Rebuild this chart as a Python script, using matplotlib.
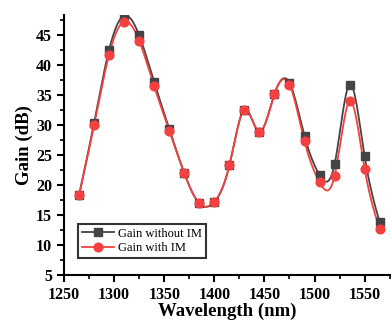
import numpy as np
import matplotlib
matplotlib.use("Agg")
import matplotlib.pyplot as plt
from matplotlib.ticker import MultipleLocator

wavelength = [1265, 1280, 1295, 1310, 1325, 1340, 1355, 1370, 1385, 1400, 1415,
              1430, 1445, 1460, 1475, 1490, 1505, 1520, 1535, 1550, 1565]
gain_without_im = [18.3, 30.4, 42.6, 48.3, 45.0, 37.2, 29.4, 22.0, 16.95, 17.2, 23.3,
                   32.6, 28.9, 35.2, 37.1, 28.2, 21.7, 23.5, 36.8, 24.8, 13.8]
gain_with_im = [18.3, 30.0, 41.8, 47.3, 44.1, 36.5, 29.1, 22.0, 16.95, 17.2, 23.3,
                32.6, 28.9, 35.2, 36.8, 27.3, 20.5, 21.55, 34.0, 22.7, 12.7]


def natural_spline(x, y, n=600):
    x = np.asarray(x, float)
    y = np.asarray(y, float)
    m = len(x)
    h = np.diff(x)
    A = np.zeros((m, m))
    b = np.zeros(m)
    A[0, 0] = 1
    A[-1, -1] = 1
    for i in range(1, m - 1):
        A[i, i - 1] = h[i - 1]
        A[i, i] = 2 * (h[i - 1] + h[i])
        A[i, i + 1] = h[i]
        b[i] = 3 * ((y[i + 1] - y[i]) / h[i] - (y[i] - y[i - 1]) / h[i - 1])
    c = np.linalg.solve(A, b)
    xs = np.linspace(x[0], x[-1], n)
    idx = np.clip(np.searchsorted(x, xs) - 1, 0, m - 2)
    dx = xs - x[idx]
    bb = (y[idx + 1] - y[idx]) / h[idx] - h[idx] * (2 * c[idx] + c[idx + 1]) / 3
    dd = (c[idx + 1] - c[idx]) / (3 * h[idx])
    ys = y[idx] + bb * dx + c[idx] * dx ** 2 + dd * dx ** 3
    return xs, ys


plt.rcParams['font.family'] = ['Liberation Serif', 'DejaVu Serif']

fig = plt.figure(figsize=(3.91, 3.25), dpi=100)
ax = fig.add_axes([0.1637, 0.1538, 0.833, 0.8])

black = '#444444'
red = '#f44040'

for ys, col, mk, ms, lab in [(gain_without_im, black, 's', 5.3, 'Gain without IM'),
                             (gain_with_im, red, 'o', 6.3, 'Gain with IM')]:
    sx, sy = natural_spline(wavelength, ys)
    ax.plot(sx, sy, color=col, lw=1.3, zorder=2)
    ax.plot(wavelength, ys, linestyle='none', marker=mk, ms=ms, color=col, zorder=3)
    ax.plot([], [], color=col, lw=1.3, marker=mk, ms=ms, label=lab)

ax.set_xlim(1250, 1575)
ax.set_ylim(5, 48.4)
ax.xaxis.set_major_locator(MultipleLocator(50))
ax.xaxis.set_minor_locator(MultipleLocator(25))
ax.yaxis.set_major_locator(MultipleLocator(5))
ax.yaxis.set_minor_locator(MultipleLocator(2.5))
ax.spines['top'].set_visible(False)
ax.spines['right'].set_visible(False)
for s in ['left', 'bottom']:
    ax.spines[s].set_linewidth(1.5)
ax.tick_params(which='major', direction='out', length=5, width=1.5, labelsize=11.5)
ax.tick_params(which='minor', direction='out', length=3, width=1.2)
for lbl in ax.get_xticklabels() + ax.get_yticklabels():
    lbl.set_fontweight('bold')

ax.set_xlabel('Wavelength (nm)', fontsize=13.5, fontweight='bold', labelpad=0)
ax.set_ylabel('Gain (dB)', fontsize=13.5, fontweight='bold', labelpad=2)

leg = ax.legend(loc='lower left', bbox_to_anchor=(0.043, 0.065), fontsize=9,
                frameon=True, fancybox=False, borderpad=0.3, handlelength=2.6,
                handletextpad=0.3, labelspacing=0.2, borderaxespad=0)
leg.get_frame().set_edgecolor('black')
leg.get_frame().set_linewidth(1.5)

fig.savefig('out.png', dpi=100)
